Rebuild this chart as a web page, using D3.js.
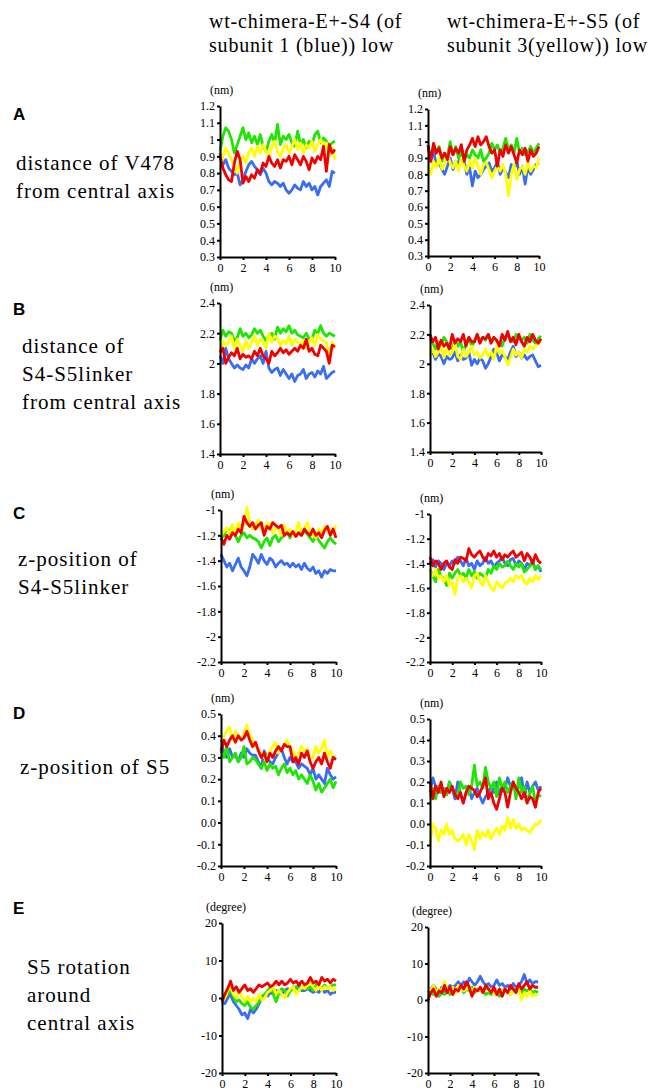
<!DOCTYPE html>
<html>
<head>
<meta charset="utf-8">
<script src="https://cdn.jsdelivr.net/npm/d3@7"></script>
<style>
  body { margin: 0; background: #fff; }
  svg { display: block; }
</style>
</head>
<body>
<div id="chart"></div>
<script>
// ---- data (x = 0..10 in 0.25 steps) ----
const xTicks = [0, 2, 4, 6, 8, 10];
const seriesOrder = ['blue', 'green', 'yellow', 'red'];
const colors = { blue: '#3a6cf4', green: '#1ee600', yellow: '#ffff00', red: '#f20000' };

const yTicksA = [0.3, 0.4, 0.5, 0.6, 0.7, 0.8, 0.9, 1, 1.1, 1.2];
const yTicksB = [1.4, 1.6, 1.8, 2, 2.2, 2.4];
const yTicksC = [-2.2, -2, -1.8, -1.6, -1.4, -1.2, -1];
const yTicksD = [-0.2, -0.1, 0.0, 0.1, 0.2, 0.3, 0.4, 0.5];
const yTicksE = [-20, -10, 0, 10, 20];

const headers = [['wt-chimera-E+-S4 (of', 'subunit 1 (blue)) low'], ['wt-chimera-E+-S5 (of', 'subunit 3(yellow)) low']];
const rowLetters = ['A', 'B', 'C', 'D', 'E'];
const rowTitles = [
  ['distance of V478', 'from central axis'],
  ['distance of', 'S4-S5linker', 'from central axis'],
  ['z-position of', 'S4-S5linker'],
  ['z-position of S5'],
  ['S5 rotation', 'around', 'central axis']
];
const units = ['(nm)', '(nm)', '(nm)', '(nm)', '(degree)'];

const aLeftGreen = [0.93,1.02,1.07,1.05,1.0,0.92,0.97,1.02,1.07,1.0,1.04,0.98,1.02,0.97,1.03,0.96,0.93,0.99,1.03,0.98,1.09,0.97,1.02,1.0,1.03,0.98,0.96,1.05,0.97,1.0,0.95,0.99,0.97,1.03,1.05,0.98,1.01,0.99,0.96,0.98,0.99];
const aLeftYellow = [0.82,0.9,0.95,0.92,0.88,0.84,0.8,0.88,0.9,0.86,0.92,0.95,0.9,0.96,0.92,0.97,0.93,0.9,0.96,0.99,0.93,0.9,0.95,0.97,0.92,0.96,1.0,0.94,0.98,0.92,0.97,0.95,0.99,0.93,0.97,1.0,0.96,0.98,0.9,0.95,0.88];
const aLeftRed = [0.9,0.83,0.79,0.76,0.75,0.86,0.93,0.88,0.74,0.78,0.75,0.79,0.77,0.82,0.8,0.86,0.84,0.9,0.86,0.84,0.88,0.83,0.88,0.87,0.9,0.85,0.91,0.88,0.85,0.9,0.87,0.82,0.89,0.86,0.9,0.88,0.96,0.81,0.97,0.92,0.94];
const aLeftBlue = [0.92,0.85,0.88,0.83,0.81,0.79,0.8,0.73,0.76,0.81,0.85,0.87,0.84,0.82,0.79,0.83,0.8,0.75,0.73,0.75,0.74,0.72,0.74,0.7,0.68,0.7,0.73,0.71,0.7,0.75,0.72,0.74,0.7,0.72,0.67,0.72,0.74,0.76,0.72,0.81,0.8];

const aRightRed = [0.98,0.88,0.99,0.93,0.96,0.9,0.93,0.89,0.97,0.92,0.96,0.93,0.98,0.88,0.95,0.98,1.02,0.97,1.03,0.98,1.0,1.03,0.97,0.93,0.95,0.85,0.95,0.91,0.98,0.93,0.97,0.92,0.87,0.95,0.92,0.96,0.88,0.95,0.91,0.93,0.97];
const aRightGreen = [0.96,0.9,0.98,0.94,0.97,0.88,0.93,0.91,1.0,0.92,0.97,0.9,0.95,0.88,0.92,0.9,0.95,0.92,0.9,0.95,0.88,0.9,0.93,0.99,0.95,0.98,0.93,0.96,1.02,0.95,0.98,0.93,1.02,0.93,0.96,0.92,0.94,0.97,0.93,0.96,0.99];
const aRightBlue = [0.98,0.88,0.95,0.85,0.87,0.83,0.8,0.85,0.9,0.83,0.88,0.86,0.98,0.88,0.8,0.84,0.73,0.82,0.78,0.8,0.83,0.85,0.87,0.82,0.84,0.88,0.8,0.84,0.81,0.78,0.86,0.83,0.88,0.8,0.85,0.74,0.85,0.8,0.83,0.86,0.87];
const aRightYellow = [0.85,0.8,0.88,0.84,0.9,0.83,0.86,0.92,0.87,0.84,0.88,0.82,0.9,0.85,0.82,0.88,0.84,0.9,0.85,0.8,0.86,0.87,0.83,0.78,0.82,0.85,0.82,0.86,0.8,0.67,0.8,0.86,0.77,0.83,0.85,0.8,0.87,0.82,0.85,0.84,0.9];

const bLeftGreen = [2.15,2.22,2.18,2.21,2.2,2.15,2.17,2.23,2.18,2.2,2.17,2.19,2.23,2.2,2.22,2.18,2.15,2.18,2.2,2.16,2.24,2.2,2.23,2.21,2.25,2.2,2.22,2.19,2.18,2.17,2.2,2.16,2.16,2.22,2.2,2.25,2.2,2.18,2.2,2.19,2.18];
const bLeftYellow = [2.08,2.15,2.12,2.14,2.18,2.1,2.16,2.12,2.08,2.15,2.1,2.14,2.18,2.12,2.16,2.14,2.1,2.2,2.14,2.18,2.17,2.12,2.15,2.13,2.18,2.12,2.16,2.14,2.13,2.15,2.1,2.14,2.17,2.12,2.19,2.16,2.15,2.14,2.05,2.14,2.1];
const bLeftRed = [2.07,2.1,2.0,2.04,2.07,2.05,2.1,2.03,2.06,2.04,2.05,2.03,2.08,2.05,2.1,2.05,2.03,2.0,2.08,2.05,2.07,2.1,2.07,2.09,2.06,2.08,2.1,2.08,2.12,2.1,2.16,2.08,2.1,2.06,2.05,2.12,2.1,2.08,2.0,2.12,2.11];
const bLeftBlue = [2.05,2.0,2.1,2.03,2.0,1.97,1.99,1.97,1.96,1.99,1.97,2.03,2.0,2.03,2.05,2.0,2.08,1.97,1.94,1.96,1.97,1.92,1.96,1.93,1.9,1.93,1.88,1.92,1.93,1.96,1.9,1.93,1.94,1.91,1.95,1.93,1.98,1.9,1.92,1.94,1.95];

const bRightRed = [2.2,2.15,2.18,2.1,2.16,2.12,2.14,2.1,2.2,2.14,2.17,2.15,2.2,2.12,2.18,2.15,2.15,2.2,2.14,2.18,2.17,2.2,2.14,2.18,2.16,2.12,2.2,2.16,2.22,2.15,2.18,2.13,2.2,2.15,2.12,2.18,2.15,2.2,2.16,2.14,2.17];
const bRightGreen = [2.17,2.14,2.1,2.15,2.12,2.18,2.15,2.12,2.1,2.16,2.12,2.15,2.08,2.14,2.18,2.12,2.15,2.2,2.16,2.18,2.16,2.2,2.15,2.18,2.16,2.14,2.12,2.18,2.2,2.17,2.15,2.2,2.18,2.16,2.18,2.14,2.2,2.16,2.14,2.17,2.19];
const bRightBlue = [2.06,2.08,2.03,2.07,2.05,2.0,2.05,2.03,2.04,2.08,2.02,2.06,2.03,2.04,2.08,1.99,2.03,2.0,2.04,2.02,1.97,2.0,2.05,2.1,2.08,2.02,2.06,2.05,2.03,2.08,2.12,2.05,2.08,2.04,2.06,2.03,2.05,2.06,2.02,1.98,1.99];
const bRightYellow = [2.06,2.1,2.05,2.08,2.12,2.04,2.1,2.06,2.08,2.14,2.05,2.03,2.1,2.05,2.08,2.12,2.06,2.08,2.04,2.06,2.1,2.05,2.08,2.03,2.12,2.07,2.09,2.05,1.99,2.04,2.1,2.06,2.08,2.04,2.1,2.08,2.12,2.1,2.12,2.14,2.15];

const cLeftYellow = [-1.2,-1.17,-1.14,-1.2,-1.12,-1.18,-1.1,-1.15,-1.12,-0.98,-1.1,-1.15,-1.12,-1.08,-1.15,-1.18,-1.1,-1.12,-1.18,-1.14,-1.15,-1.2,-1.12,-1.18,-1.15,-1.2,-1.17,-1.1,-1.18,-1.15,-1.1,-1.18,-1.2,-1.22,-1.15,-1.18,-1.13,-1.17,-1.15,-1.18,-1.12];
const cLeftRed = [-1.22,-1.27,-1.2,-1.23,-1.18,-1.2,-1.15,-1.18,-1.05,-1.1,-1.13,-1.1,-1.15,-1.12,-1.1,-1.2,-1.13,-1.15,-1.1,-1.12,-1.14,-1.12,-1.2,-1.18,-1.2,-1.17,-1.21,-1.18,-1.2,-1.15,-1.18,-1.2,-1.15,-1.2,-1.18,-1.22,-1.16,-1.13,-1.2,-1.15,-1.22];
const cLeftGreen = [-1.22,-1.2,-1.15,-1.18,-1.12,-1.2,-1.25,-1.2,-1.18,-1.22,-1.2,-1.22,-1.23,-1.25,-1.3,-1.25,-1.22,-1.28,-1.22,-1.2,-1.25,-1.22,-1.2,-1.18,-1.22,-1.18,-1.2,-1.18,-1.2,-1.17,-1.19,-1.22,-1.25,-1.2,-1.24,-1.27,-1.3,-1.25,-1.22,-1.25,-1.27];
const cLeftBlue = [-1.35,-1.4,-1.45,-1.42,-1.48,-1.43,-1.38,-1.45,-1.48,-1.52,-1.45,-1.35,-1.38,-1.42,-1.35,-1.4,-1.43,-1.38,-1.4,-1.45,-1.42,-1.4,-1.43,-1.42,-1.45,-1.42,-1.45,-1.43,-1.47,-1.42,-1.46,-1.48,-1.45,-1.5,-1.48,-1.53,-1.48,-1.5,-1.47,-1.48,-1.48];

const cRightRed = [-1.35,-1.42,-1.38,-1.4,-1.45,-1.4,-1.38,-1.43,-1.45,-1.37,-1.4,-1.35,-1.36,-1.38,-1.28,-1.33,-1.35,-1.32,-1.3,-1.35,-1.38,-1.32,-1.34,-1.3,-1.35,-1.32,-1.37,-1.33,-1.35,-1.32,-1.3,-1.35,-1.33,-1.31,-1.38,-1.32,-1.35,-1.4,-1.33,-1.38,-1.4];
const cRightBlue = [-1.4,-1.37,-1.43,-1.38,-1.4,-1.45,-1.4,-1.42,-1.38,-1.4,-1.35,-1.38,-1.42,-1.36,-1.42,-1.4,-1.45,-1.38,-1.42,-1.4,-1.35,-1.4,-1.38,-1.43,-1.4,-1.38,-1.35,-1.4,-1.42,-1.37,-1.36,-1.42,-1.38,-1.4,-1.45,-1.4,-1.42,-1.38,-1.45,-1.42,-1.47];
const cRightGreen = [-1.45,-1.5,-1.55,-1.45,-1.5,-1.53,-1.58,-1.48,-1.52,-1.48,-1.45,-1.5,-1.48,-1.52,-1.45,-1.5,-1.47,-1.52,-1.48,-1.5,-1.52,-1.45,-1.48,-1.42,-1.45,-1.4,-1.43,-1.42,-1.38,-1.42,-1.45,-1.4,-1.43,-1.4,-1.47,-1.45,-1.42,-1.4,-1.45,-1.42,-1.45];
const cRightYellow = [-1.47,-1.5,-1.45,-1.52,-1.5,-1.55,-1.5,-1.58,-1.55,-1.65,-1.52,-1.5,-1.55,-1.52,-1.55,-1.6,-1.5,-1.48,-1.55,-1.58,-1.5,-1.55,-1.6,-1.62,-1.55,-1.58,-1.6,-1.56,-1.55,-1.52,-1.55,-1.5,-1.52,-1.5,-1.55,-1.57,-1.52,-1.55,-1.5,-1.53,-1.5];

const dLeftYellow = [0.36,0.4,0.42,0.44,0.38,0.42,0.4,0.38,0.41,0.45,0.4,0.38,0.35,0.34,0.32,0.3,0.3,0.33,0.35,0.37,0.32,0.34,0.36,0.38,0.35,0.33,0.3,0.32,0.35,0.33,0.34,0.3,0.3,0.35,0.32,0.34,0.38,0.3,0.33,0.3,0.3];
const dLeftRed = [0.33,0.38,0.35,0.38,0.4,0.37,0.4,0.38,0.39,0.42,0.38,0.35,0.37,0.33,0.3,0.32,0.28,0.32,0.3,0.33,0.35,0.33,0.36,0.35,0.35,0.28,0.3,0.27,0.32,0.3,0.33,0.28,0.25,0.28,0.3,0.27,0.32,0.28,0.25,0.3,0.29];
const dLeftBlue = [0.38,0.32,0.3,0.34,0.3,0.31,0.28,0.32,0.3,0.34,0.32,0.31,0.31,0.28,0.25,0.33,0.3,0.28,0.27,0.3,0.32,0.34,0.3,0.27,0.3,0.28,0.28,0.25,0.27,0.26,0.25,0.22,0.25,0.2,0.22,0.2,0.18,0.25,0.22,0.2,0.21];
const dLeftGreen = [0.33,0.3,0.35,0.28,0.3,0.32,0.28,0.3,0.35,0.27,0.28,0.3,0.29,0.27,0.25,0.28,0.24,0.27,0.25,0.26,0.22,0.25,0.27,0.23,0.25,0.22,0.24,0.2,0.22,0.2,0.18,0.22,0.19,0.15,0.18,0.14,0.16,0.18,0.2,0.16,0.19];

const dRightBlue = [0.15,0.22,0.18,0.15,0.18,0.16,0.14,0.2,0.17,0.12,0.2,0.14,0.1,0.15,0.18,0.12,0.15,0.17,0.13,0.1,0.13,0.15,0.18,0.15,0.2,0.14,0.18,0.17,0.22,0.18,0.2,0.15,0.18,0.22,0.13,0.2,0.15,0.18,0.2,0.16,0.18];
const dRightGreen = [0.13,0.17,0.12,0.18,0.15,0.17,0.14,0.2,0.16,0.15,0.13,0.2,0.17,0.18,0.14,0.18,0.28,0.18,0.2,0.17,0.27,0.2,0.17,0.2,0.13,0.22,0.17,0.2,0.15,0.18,0.2,0.12,0.22,0.15,0.18,0.1,0.15,0.18,0.1,0.14,0.13];
const dRightRed = [0.2,0.12,0.18,0.15,0.2,0.13,0.17,0.15,0.18,0.14,0.12,0.15,0.1,0.15,0.18,0.17,0.16,0.13,0.15,0.18,0.22,0.12,0.15,0.1,0.07,0.12,0.17,0.15,0.08,0.15,0.2,0.17,0.15,0.12,0.15,0.1,0.13,0.12,0.08,0.15,0.17];
const dRightYellow = [-0.1,0.0,-0.02,-0.08,-0.03,-0.05,0.0,-0.05,-0.03,-0.07,-0.08,-0.07,-0.05,-0.1,-0.05,-0.08,-0.12,-0.03,-0.07,-0.04,-0.06,-0.03,-0.07,-0.04,-0.02,-0.05,-0.01,-0.03,0.03,-0.02,0.02,-0.02,0.0,-0.03,-0.02,-0.03,-0.04,-0.02,0.0,0.0,0.02];

const eLeftRed = [-1,1,2.5,4.5,2,3,1.5,2.5,3.5,2,2.5,1.5,2.5,3.5,3,3.5,4,3,3.5,4.5,3.5,4.5,3.5,4,5,4,4.5,3.5,4.5,3.5,4,5.5,4,4.5,3.5,5.5,4.5,5,4,5,4.5];
const eLeftYellow = [-1,0,2,3,1,0,2,0.5,-1,0.5,-1,0,-1,1,-0.5,0,1.5,2,3,1,2,1,0,1.5,2.5,3,1,2,3,2.5,3.5,4.5,3,2,3.5,2,3,2.5,3,2,2.5];
const eLeftGreen = [-1,0,1,2.5,0.5,-1,-0.5,-1.5,-2,-1,-2.5,-3,-2,-1,0.5,1,2,3,1,-1,1.5,2.5,2,0.5,2,2.5,3,2,2.5,3,2.5,3,2,3.5,3,2.5,3.5,2.5,3,3.5,3.5];
const eLeftBlue = [-1,-1.5,0,1,-1,-2,-3,-4.5,-4,-5.5,-3,-4,-3,-1.5,0,1,0.5,1.5,1,2,1.5,1,2,2.5,2,3,2.5,3.5,2,2,2.5,2,1.5,2,1.5,2.5,1.5,2,1,1.5,1.5];

const eRightBlue = [2,3,4,3,2,3.5,2.5,3,4,3.5,4,5,4,5,3.5,6,5,4,5,6.5,5,4,4.5,3.5,4,5.5,4,4.5,3.5,4,3,4.5,3.5,4,5,7,4.5,5.5,4.5,5,5];
const eRightYellow = [3.5,2.5,4,2,3,2.5,5,3,2.5,3.5,2,4,3,2.5,3,4,2,3.5,2.5,3,2,3,2.5,3,1.5,2.5,3,2,3,2,1.5,2.5,2,3,0,2,1,2.5,1,1.5,1.5];
const eRightGreen = [1,2,1.5,3,1,2,1.5,2.5,1.5,3,2,2.5,3.5,2,3,2.5,3.5,2,3,2.5,3,1.5,2,1.5,3,2,1,2.5,3,2,1.5,2.5,3,2.5,2,3,2.5,3,2,2.5,2];
const eRightRed = [0,2,3,1,2.5,2,4,2,3.5,1.5,3,2.5,4,3,5,3.5,1,3,2.5,3.5,2,4,3,2,3.5,1.5,3,1,3,2,4,3,2,4.5,3,4,5,3,4,3.5,3.5];

// ---- layout ----
const width = 649, height = 1091;
const serif = '"Liberation Serif", "Times New Roman", serif';

const rows = [
  { ticks: yTicksA, fmt: v => String(+v.toFixed(1)), letterY: 120, titleX: 16, titleY: 170,
    panels: [
      { x0: 220, x1: 335, yt: 106, yb: 257, data: { blue: aLeftBlue, green: aLeftGreen, yellow: aLeftYellow, red: aLeftRed } },
      { x0: 428, x1: 539, yt: 109, yb: 256, data: { blue: aRightBlue, green: aRightGreen, yellow: aRightYellow, red: aRightRed } }
    ] },
  { ticks: yTicksB, fmt: v => String(+v.toFixed(1)), letterY: 315, titleX: 22, titleY: 353,
    panels: [
      { x0: 220, x1: 335, yt: 303, yb: 454, data: { blue: bLeftBlue, green: bLeftGreen, yellow: bLeftYellow, red: bLeftRed } },
      { x0: 430, x1: 541, yt: 305, yb: 452, data: { blue: bRightBlue, green: bRightGreen, yellow: bRightYellow, red: bRightRed } }
    ] },
  { ticks: yTicksC, fmt: v => String(+v.toFixed(1)), letterY: 519, titleX: 18, titleY: 566,
    panels: [
      { x0: 221, x1: 336, yt: 510, yb: 662, data: { blue: cLeftBlue, green: cLeftGreen, yellow: cLeftYellow, red: cLeftRed } },
      { x0: 430, x1: 541, yt: 514, yb: 662, data: { blue: cRightBlue, green: cRightGreen, yellow: cRightYellow, red: cRightRed } }
    ] },
  { ticks: yTicksD, fmt: v => v.toFixed(1), letterY: 719, titleX: 20, titleY: 774,
    panels: [
      { x0: 221, x1: 336, yt: 714, yb: 866, data: { blue: dLeftBlue, green: dLeftGreen, yellow: dLeftYellow, red: dLeftRed } },
      { x0: 430, x1: 541, yt: 719, yb: 866, data: { blue: dRightBlue, green: dRightGreen, yellow: dRightYellow, red: dRightRed } }
    ] },
  { ticks: yTicksE, fmt: v => String(v), letterY: 914, titleX: 27, titleY: 974,
    panels: [
      { x0: 222, x1: 336, yt: 923, yb: 1073, data: { blue: eLeftBlue, green: eLeftGreen, yellow: eLeftYellow, red: eLeftRed } },
      { x0: 428, x1: 538, yt: 927, yb: 1073, data: { blue: eRightBlue, green: eRightGreen, yellow: eRightYellow, red: eRightRed } }
    ] }
];

const svg = d3.select('#chart').append('svg')
  .attr('width', width).attr('height', height);

// column headers
const headerX = [209, 447];
headers.forEach((lines, c) => {
  lines.forEach((t, k) => {
    svg.append('text')
      .attr('x', headerX[c]).attr('y', 28 + k * 24)
      .style('font-family', serif).style('font-size', '20px')
      .style('letter-spacing', '0.8px')
      .text(t);
  });
});

rows.forEach((row, r) => {
  // row letter
  svg.append('text')
    .attr('x', 13).attr('y', row.letterY)
    .style('font-family', '"Liberation Sans", Arial, sans-serif')
    .style('font-weight', 'bold').style('font-size', '17px')
    .text(rowLetters[r]);

  // row description
  rowTitles[r].forEach((t, k) => {
    svg.append('text')
      .attr('x', row.titleX).attr('y', row.titleY + k * 28)
      .style('font-family', serif).style('font-size', '21px')
      .style('letter-spacing', '1px')
      .text(t);
  });

  row.panels.forEach(p => {
    const x = d3.scaleLinear().domain([0, 10]).range([p.x0, p.x1]);
    const y = d3.scaleLinear().domain(d3.extent(row.ticks)).range([p.yb, p.yt]);

    const g = svg.append('g');

    // series lines
    const line = d3.line()
      .x((d, i, arr) => x(i * 10 / (arr.length - 1)))
      .y(d => y(d));

    seriesOrder.forEach(name => {
      g.append('path')
        .attr('d', line(p.data[name]))
        .attr('fill', 'none')
        .attr('stroke', colors[name])
        .attr('stroke-width', 2.8)
        .attr('stroke-linejoin', 'round');
    });

    // axes
    const yAxis = d3.axisLeft(y)
      .tickValues(row.ticks)
      .tickFormat(row.fmt)
      .tickSize(3).tickSizeOuter(0).tickPadding(2);

    const xAxis = d3.axisBottom(x)
      .tickValues(xTicks)
      .tickSize(3).tickSizeOuter(0).tickPadding(3);

    [g.append('g').attr('transform', `translate(${p.x0},0)`).call(yAxis),
     g.append('g').attr('transform', `translate(0,${p.yb})`).call(xAxis)]
      .forEach(a => {
        a.attr('font-family', serif).attr('font-size', 12);
        a.select('.domain').attr('stroke', '#000').attr('stroke-width', 2);
        a.selectAll('.tick line').attr('stroke', '#000').attr('stroke-width', 2);
        a.selectAll('.tick text').attr('fill', '#000');
      });

    // unit label
    g.append('text')
      .attr('x', p.x0 - (units[r] === '(degree)' ? 16 : 10))
      .attr('y', p.yt - 12)
      .style('font-family', serif).style('font-size', '12px')
      .text(units[r]);
  });
});
</script>
</body>
</html>
